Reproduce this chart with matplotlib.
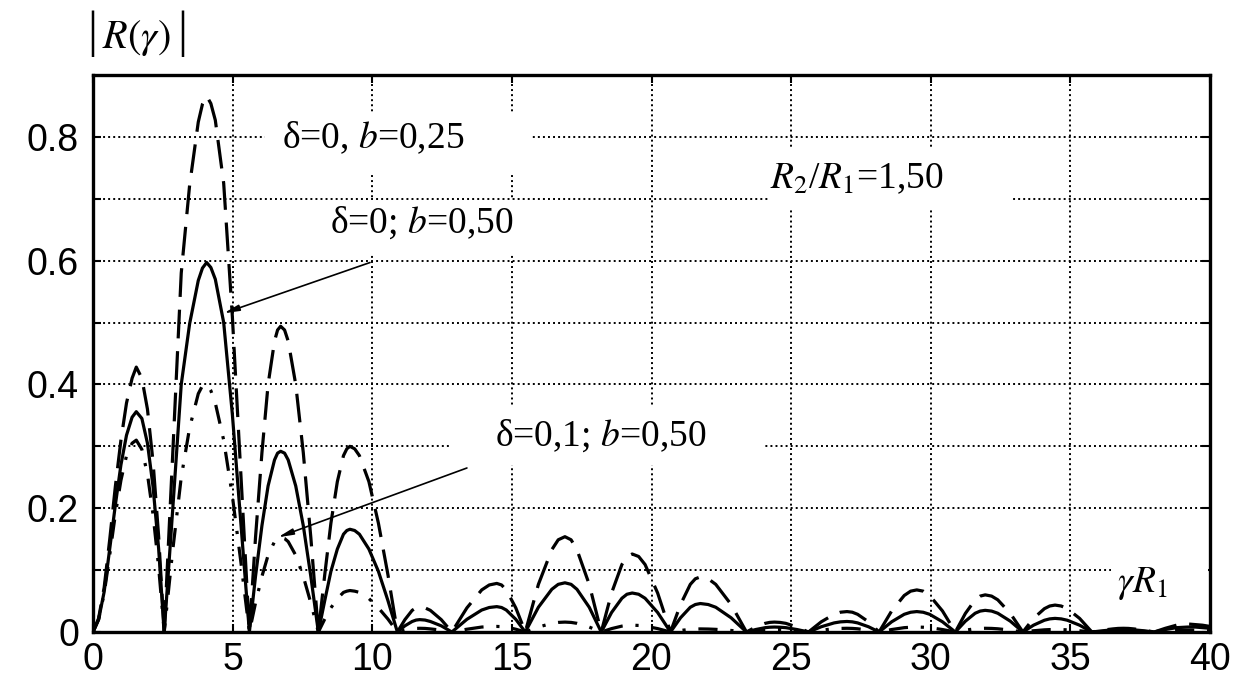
import matplotlib
matplotlib.use("Agg")
import matplotlib.pyplot as plt
from matplotlib.patches import Rectangle

# ---------------- data ----------------
# abscissa gamma*R1, lobe by lobe
x_lobe1 = [0, 0.2, 0.4, 0.6, 0.8, 1.0, 1.2, 1.4, 1.55, 1.75, 1.95, 2.15, 2.35]
x_lobe2 = [2.55, 2.85, 3.16, 3.46, 3.77, 3.92, 4.07, 4.22, 4.38, 4.68, 4.99, 5.29]
x_lobe3 = [5.6, 5.82, 6.05, 6.27, 6.5, 6.61, 6.72, 6.86, 6.99, 7.26, 7.53, 7.8]
x_lobe4 = [8.07, 8.3, 8.52, 8.75, 8.97, 9.09, 9.2, 9.37, 9.54, 9.88, 10.22, 10.56]
x_tail = [
    10.9, 11.17, 11.43, 11.57, 11.7, 11.89, 12.08, 12.47,
    12.85, 13.39, 13.92, 14.19, 14.46, 14.63, 14.8, 15.14,
    15.48, 15.95, 16.43, 16.66, 16.9, 17.12, 17.33, 17.77,
    18.2, 18.57, 18.94, 19.12, 19.31, 19.54, 19.77, 20.22,
    20.68, 21.04, 21.39, 21.57, 21.75, 22.03, 22.3, 22.85,
    23.4, 23.73, 24.07, 24.23, 24.4, 24.6, 24.81, 25.21,
    25.62, 26.08, 26.54, 26.77, 27.0, 27.19, 27.38, 27.77,
    28.15, 28.6, 29.05, 29.28, 29.5, 29.73, 29.96, 30.42,
    30.88, 31.24, 31.59, 31.77, 31.95, 32.18, 32.4, 32.85,
    33.3, 33.68, 34.07, 34.26, 34.45, 34.67, 34.89, 35.33,
    35.77, 36.15, 36.52, 36.71, 36.9, 37.08, 37.27, 37.63,
    38.0, 38.4, 38.8, 39.2, 39.47, 39.73, 40.0,
]

# delta=0, b=0.25 (dashed)
y_dashed_main = [
    0, 0.022, 0.072, 0.15, 0.235, 0.31, 0.37, 0.41, 0.428, 0.41, 0.36, 0.275, 0.155,
    0, 0.283, 0.58, 0.722, 0.824, 0.853, 0.866, 0.854, 0.827, 0.725, 0.51, 0.26,
    0, 0.153, 0.29, 0.40, 0.47, 0.488, 0.494, 0.488, 0.47, 0.40, 0.29, 0.153,
    0, 0.093, 0.176, 0.243, 0.285, 0.296, 0.30, 0.296, 0.285, 0.243, 0.176, 0.093,
]
y_dashed_tail = [
    0, 0.02, 0.035, 0.039, 0.04, 0.039, 0.035, 0.02,
    0, 0.039, 0.068, 0.076, 0.0785, 0.076, 0.068, 0.039,
    0, 0.077, 0.133, 0.149, 0.154, 0.149, 0.133, 0.077,
    0, 0.063, 0.109, 0.122, 0.126, 0.122, 0.109, 0.063,
    0, 0.0445, 0.077, 0.086, 0.089, 0.086, 0.077, 0.0445,
    0, 0.008, 0.014, 0.0155, 0.016, 0.0155, 0.014, 0.008,
    0, 0.0165, 0.0286, 0.032, 0.033, 0.032, 0.0286, 0.0165,
    0, 0.034, 0.059, 0.066, 0.068, 0.066, 0.059, 0.034,
    0, 0.03, 0.052, 0.058, 0.06, 0.058, 0.052, 0.03,
    0, 0.022, 0.0377, 0.042, 0.0435, 0.042, 0.0377, 0.022,
    0, 0.003, 0.005, 0.0058, 0.006, 0.0058, 0.005, 0.003,
    0, 0.006, 0.011, 0.013, 0.012, 0.011, 0.009,
]

# delta=0, b=0.50 (solid)
y_solid_main = [
    0, 0.02, 0.065, 0.135, 0.205, 0.27, 0.318, 0.347, 0.356, 0.345, 0.305, 0.235, 0.135,
    0, 0.195, 0.40, 0.498, 0.568, 0.588, 0.597, 0.589, 0.57, 0.50, 0.352, 0.18,
    0, 0.09, 0.172, 0.236, 0.278, 0.289, 0.292, 0.289, 0.278, 0.236, 0.172, 0.09,
    0, 0.051, 0.098, 0.134, 0.158, 0.164, 0.166, 0.164, 0.158, 0.134, 0.098, 0.051,
]
y_solid_tail = [
    0, 0.01, 0.017, 0.0193, 0.02, 0.0193, 0.017, 0.01,
    0, 0.0205, 0.0355, 0.0396, 0.041, 0.0396, 0.0355, 0.0205,
    0, 0.04, 0.069, 0.077, 0.0795, 0.077, 0.069, 0.04,
    0, 0.0315, 0.0545, 0.061, 0.063, 0.061, 0.0545, 0.0315,
    0, 0.023, 0.04, 0.0444, 0.046, 0.0444, 0.04, 0.023,
    0, 0.004, 0.007, 0.0077, 0.008, 0.0077, 0.007, 0.004,
    0, 0.0085, 0.0147, 0.0164, 0.017, 0.0164, 0.0147, 0.0085,
    0, 0.0165, 0.0286, 0.0319, 0.033, 0.0319, 0.0286, 0.0165,
    0, 0.0175, 0.0303, 0.0338, 0.035, 0.0338, 0.0303, 0.0175,
    0, 0.011, 0.019, 0.0212, 0.022, 0.0212, 0.019, 0.011,
    0, 0.002, 0.0035, 0.0039, 0.004, 0.0039, 0.0035, 0.002,
    0, 0.004, 0.007, 0.008, 0.008, 0.007, 0.006,
]

# delta=0.1, b=0.50 (dash-dot)
y_dashdot_main = [
    0, 0.02, 0.062, 0.125, 0.19, 0.245, 0.285, 0.305, 0.31, 0.295, 0.255, 0.19, 0.105,
    0, 0.13, 0.25, 0.33, 0.385, 0.398, 0.40, 0.39, 0.37, 0.31, 0.22, 0.115,
    0, 0.047, 0.09, 0.124, 0.146, 0.151, 0.153, 0.151, 0.146, 0.124, 0.09, 0.047,
    0, 0.021, 0.039, 0.054, 0.064, 0.066, 0.067, 0.066, 0.064, 0.054, 0.039, 0.021,
]
y_dashdot_tail = [
    0, 0.003, 0.005, 0.0058, 0.006, 0.0058, 0.005, 0.003,
    0, 0.0045, 0.008, 0.0087, 0.009, 0.0087, 0.008, 0.0045,
    0, 0.008, 0.014, 0.0155, 0.016, 0.0155, 0.014, 0.008,
    0, 0.0055, 0.0095, 0.0106, 0.011, 0.0106, 0.0095, 0.0055,
    0, 0.0025, 0.0043, 0.0048, 0.005, 0.0048, 0.0043, 0.0025,
    0, 0.002, 0.0035, 0.0039, 0.004, 0.0039, 0.0035, 0.002,
    0, 0.003, 0.0052, 0.0058, 0.006, 0.0058, 0.0052, 0.003,
    0, 0.004, 0.007, 0.0077, 0.008, 0.0077, 0.007, 0.004,
    0, 0.003, 0.0052, 0.0058, 0.006, 0.0058, 0.0052, 0.003,
    0, 0.002, 0.0035, 0.0039, 0.004, 0.0039, 0.0035, 0.002,
    0, 0.001, 0.0017, 0.0019, 0.002, 0.0019, 0.0017, 0.001,
    0, 0.0015, 0.0026, 0.003, 0.003, 0.0026, 0.002,
]

x_ticks = [0, 5, 10, 15, 20, 25, 30, 35, 40]
x_tick_labels = ["0", "5", "10", "15", "20", "25", "30", "35", "40"]
y_ticks = [0, 0.1, 0.2, 0.3, 0.4, 0.5, 0.6, 0.7, 0.8]
y_tick_labels = ["0", "", "0.2", "", "0.4", "", "0.6", "", "0.8"]

x_all = x_lobe1 + x_lobe2 + x_lobe3 + x_lobe4 + x_tail
y_dashed = y_dashed_main + y_dashed_tail
y_solid = y_solid_main + y_solid_tail
y_dashdot = y_dashdot_main + y_dashdot_tail

# ---------------- figure ----------------
plt.rcParams["mathtext.fontset"] = "stix"
fig = plt.figure(figsize=(12.39, 6.84), dpi=100)
ax = fig.add_axes([93 / 1239, 1 - 632 / 684, (1210 - 93) / 1239, (632 - 75) / 684])

ax.plot(x_all, y_dashed, color="black", lw=2.3, linestyle=(0, (9, 4)), zorder=2)
ax.plot(x_all, y_solid, color="black", lw=2.3, linestyle="-", zorder=2)
ax.plot(x_all, y_dashdot, color="black", lw=2.3, linestyle=(0, (6, 4, 1, 4)), zorder=2)

ax.set_xlim(0, 40)
ax.set_ylim(0, 0.9)
ax.set_xticks(x_ticks)
ax.set_xticklabels(x_tick_labels)
ax.set_yticks(y_ticks)
ax.set_yticklabels(y_tick_labels)
for lab in ax.get_xticklabels() + ax.get_yticklabels():
    lab.set_fontfamily("Liberation Sans")
    lab.set_fontsize(27)
ax.tick_params(axis="both", direction="in", length=6, width=1.5,
               top=True, right=True, pad=7)
ax.tick_params(axis="y", pad=10)
ax.grid(True, color="black", linestyle=(0, (1, 1.6)), linewidth=1.4)
for s in ax.spines.values():
    s.set_linewidth(2.4)
    s.set_color("black")

# white label boxes that interrupt the grid (axes-fraction placement)
for (bx0, by0, bx1, by1) in [
    (0.154, 0.826, 0.391, 0.933),   # delta=0, b=0,25
    (0.204, 0.676, 0.391, 0.775),   # delta=0; b=0,50
    (0.320, 0.299, 0.601, 0.407),   # delta=0,1; b=0,50
    (0.606, 0.761, 0.823, 0.867),   # R2/R1
    (0.911, 0.040, 0.998, 0.138),   # gamma R1
]:
    ax.add_patch(Rectangle((bx0, by0), bx1 - bx0, by1 - by0,
                           transform=ax.transAxes, facecolor="white",
                           edgecolor="none", zorder=1.8))

serif = "Liberation Serif"
# |R(gamma)| axis title, bars drawn as tall text glyphs
fig.text(0.0745, 0.95, "|", family=serif, fontsize=36, ha="center", va="center")
fig.text(0.0825, 0.944, r"$R(\gamma)$", fontsize=29, ha="left", va="center")
fig.text(0.147, 0.95, "|", family=serif, fontsize=36, ha="center", va="center")

ax.text(6.77, 0.798, "δ=0, $b$=0,25", family=serif, fontsize=27,
        ha="left", va="center", zorder=4)
ax.text(8.49, 0.661, "δ=0; $b$=0,50", family=serif, fontsize=27,
        ha="left", va="center", zorder=4)
ax.text(14.39, 0.318, "δ=0,1; $b$=0,50", family=serif, fontsize=27,
        ha="left", va="center", zorder=4)
ax.text(24.24, 0.732, "$R_2$/$R_1$=1,50", family=serif, fontsize=27,
        ha="left", va="center", zorder=4)
ax.text(36.66, 0.079, r"$\gamma R_1$", fontsize=27,
        ha="left", va="center", zorder=4)

arrow = dict(arrowstyle="-|>,head_width=0.18,head_length=0.9", lw=1.2,
             color="black", shrinkA=0, shrinkB=0)
ax.annotate("", xy=(4.68, 0.515), xytext=(9.92, 0.597), arrowprops=arrow, zorder=4)
ax.annotate("", xy=(6.62, 0.153), xytext=(13.39, 0.265), arrowprops=arrow, zorder=4)

fig.savefig("out.png", dpi=100)
